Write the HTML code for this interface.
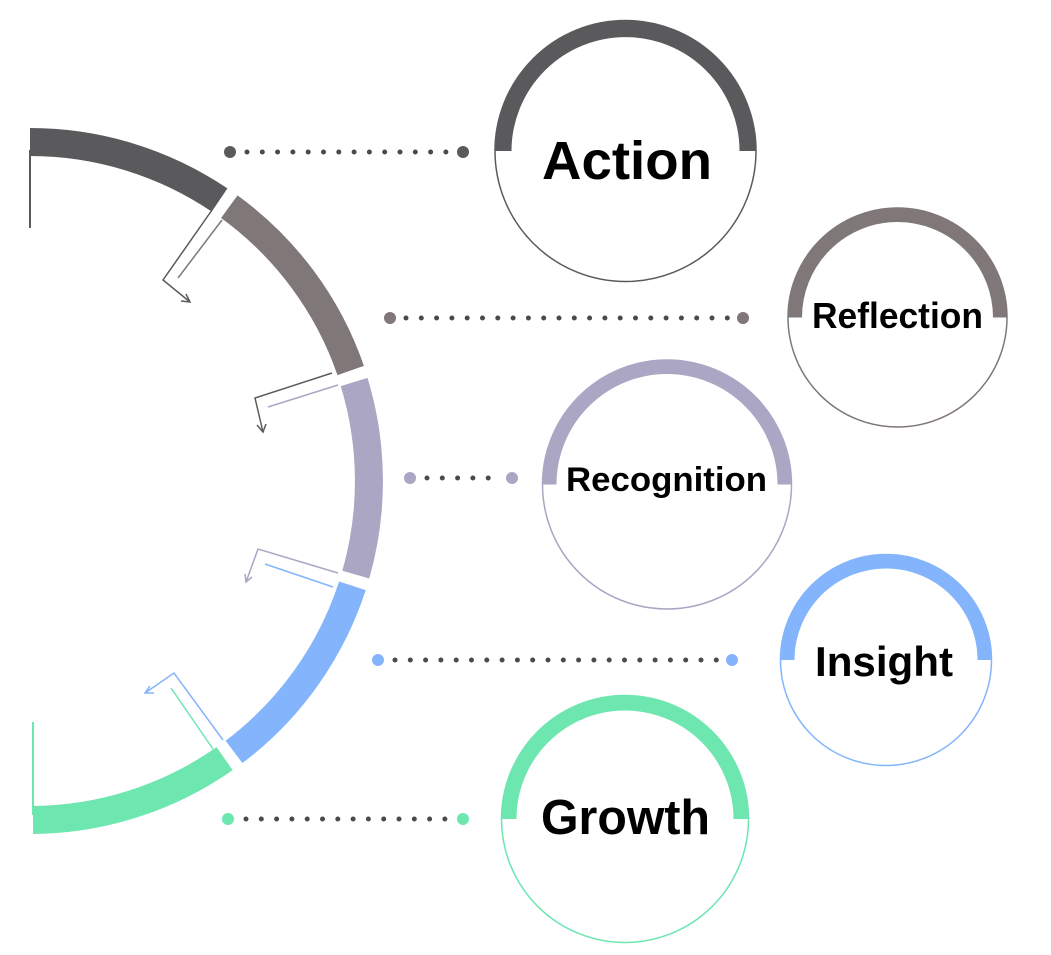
<!DOCTYPE html>
<html><head><meta charset="utf-8"><style>
html,body{margin:0;padding:0;background:#fff;}
svg{display:block;}
text{font-family:"Liberation Sans",Arial,sans-serif;font-weight:bold;fill:#000;}
</style></head><body>
<svg width="1051" height="955" viewBox="0 0 1051 955" xmlns="http://www.w3.org/2000/svg">
<g fill="none" stroke-width="28">
<path d="M30,142 A339,339 0 0 1 219.6,200" stroke="#5a5a5c"/>
<path d="M229.3,206.7 A339,339 0 0 1 350.7,370.5" stroke="#807778"/>
<path d="M354.1,382 A339,339 0 0 1 355.8,574.6" stroke="#aaa6c4"/>
<path d="M352.4,585.8 A339,339 0 0 1 234,751.9" stroke="#84b4fc"/>
<path d="M224.6,758.6 A339,339 0 0 1 33,820" stroke="#6de6b0"/>
</g>
<line x1="30" y1="150" x2="30" y2="228" stroke="#5a5a5c" stroke-width="2"/>
<line x1="33" y1="722" x2="33" y2="815" stroke="#6de6b0" stroke-width="2"/>
<g fill="none" stroke-width="1.5">
<polyline points="212,210 163,280 190,302" stroke="#5a5a5c"/>
<path d="M181,301 L190,302 L186,294" stroke="#5a5a5c"/>
<line x1="222" y1="220" x2="178" y2="278" stroke="#807778"/>
<polyline points="332,373 255,398 263,432" stroke="#5f5a5c"/>
<path d="M257,425 L263,432 L266,424" stroke="#5f5a5c"/>
<line x1="338" y1="385" x2="268" y2="407" stroke="#aaa6c4"/>
<polyline points="338,573 258,549 246,582" stroke="#aaa6c4"/>
<path d="M245,574 L246,582 L252,577" stroke="#aaa6c4"/>
<line x1="333" y1="587" x2="265" y2="564" stroke="#84b4fc"/>
<polyline points="223,740 174,673 145,693" stroke="#84b4fc"/>
<path d="M150,686 L145,693 L154,693" stroke="#84b4fc"/>
<line x1="213" y1="749" x2="171" y2="688" stroke="#6de6b0"/>
</g>
<g stroke="#4a4a4c" stroke-width="5" stroke-linecap="round" stroke-dasharray="0 15.3" fill="none">
<line x1="247" y1="152" x2="450" y2="152"/>
<line x1="406" y1="318" x2="730" y2="318"/>
<line x1="427" y1="478" x2="500" y2="478"/>
<line x1="395" y1="660" x2="720" y2="660"/>
<line x1="246" y1="819" x2="450" y2="819"/>
</g>
<circle cx="230" cy="152" r="6" fill="#5a5a5c"/><circle cx="463" cy="152" r="6" fill="#5a5a5c"/>
<circle cx="390" cy="318" r="6" fill="#807778"/><circle cx="743" cy="318" r="6" fill="#807778"/>
<circle cx="410" cy="478" r="6" fill="#aaa6c4"/><circle cx="512" cy="478" r="6" fill="#aaa6c4"/>
<circle cx="378" cy="660" r="6" fill="#84b4fc"/><circle cx="732" cy="660" r="6" fill="#84b4fc"/>
<circle cx="228" cy="819" r="6" fill="#6de6b0"/><circle cx="463" cy="819" r="6" fill="#6de6b0"/>
<g fill="none">
<circle cx="625.5" cy="151" r="130.5" stroke="#5a5a5c" stroke-width="1.5"/>
<path d="M503,151 A122.5,122.5 0 0 1 748,151" stroke="#5a5a5c" stroke-width="17"/>
<circle cx="897.5" cy="317.5" r="109.5" stroke="#807778" stroke-width="1.5"/>
<path d="M795,317.5 A102.5,102.5 0 0 1 1000,317.5" stroke="#807778" stroke-width="14"/>
<circle cx="667" cy="484.5" r="124.5" stroke="#aaa6c4" stroke-width="1.5"/>
<path d="M549.5,484.5 A117.5,117.5 0 0 1 784.5,484.5" stroke="#aaa6c4" stroke-width="14"/>
<circle cx="886" cy="660" r="105.5" stroke="#84b4fc" stroke-width="1.5"/>
<path d="M787.5,660 A98.5,98.5 0 0 1 984.5,660" stroke="#84b4fc" stroke-width="14"/>
<circle cx="625" cy="819" r="123.5" stroke="#6de6b0" stroke-width="1.5"/>
<path d="M509,819 A116,116 0 0 1 741,819" stroke="#6de6b0" stroke-width="15"/>
</g>
<text x="542" y="179" font-size="54" textLength="170" lengthAdjust="spacingAndGlyphs">Action</text>
<text x="812" y="328" font-size="36" textLength="171" lengthAdjust="spacingAndGlyphs">Reflection</text>
<text x="566" y="491" font-size="34" textLength="201" lengthAdjust="spacingAndGlyphs">Recognition</text>
<text x="815" y="676" font-size="42" textLength="138" lengthAdjust="spacingAndGlyphs">Insight</text>
<text x="541" y="834" font-size="49" textLength="169" lengthAdjust="spacingAndGlyphs">Growth</text>
</svg>
</body></html>
